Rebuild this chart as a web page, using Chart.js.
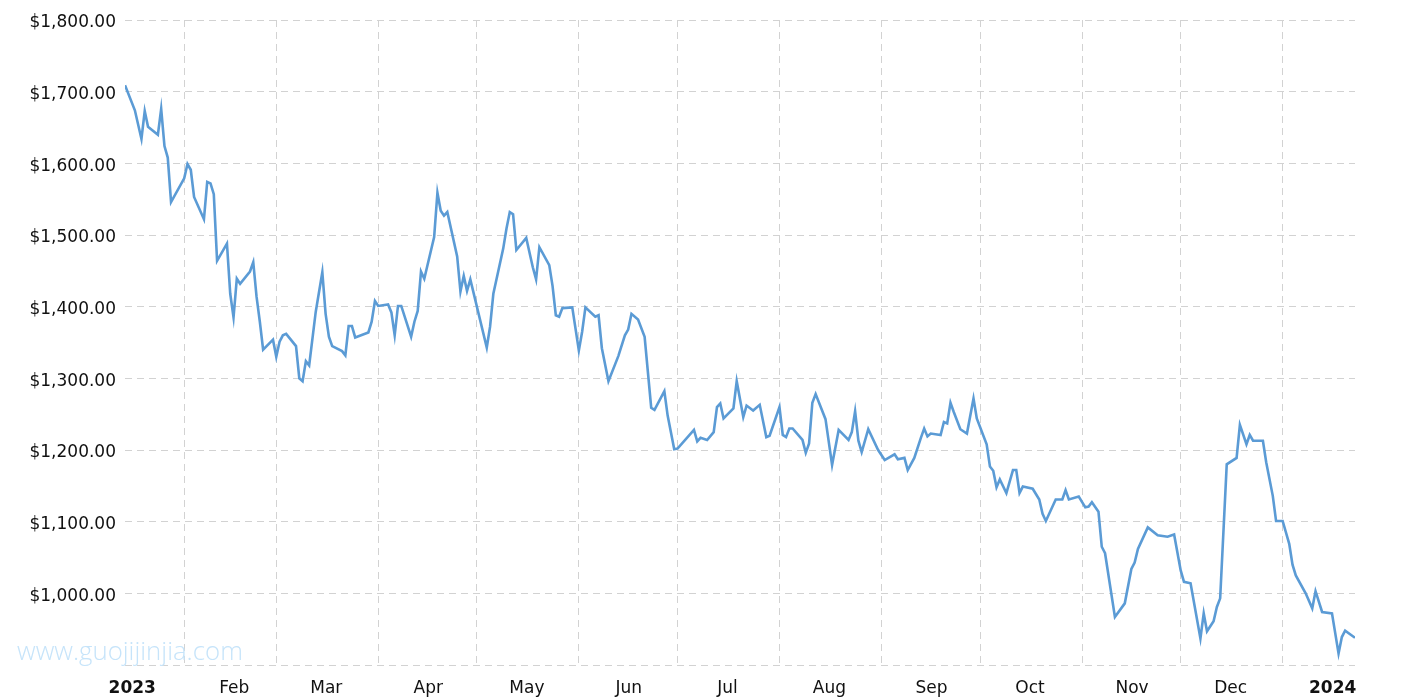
<!DOCTYPE html>
<html>
<head>
<meta charset="utf-8">
<script src="https://cdn.jsdelivr.net/npm/chart.js@4.4.1/dist/chart.umd.min.js"></script>
<style>
  html, body { margin: 0; padding: 0; background: #ffffff; }
  #wrap { width: 1415px; height: 700px; position: relative; }
</style>
</head>
<body>
<div id="wrap"><canvas id="c"></canvas></div>
<script>
// Day numbers: days since 2023-01-01 (0 = Jan 1, 2023)
const days = [
  13,16,18,19,20,23,24,25,26,27,31,32,33,34,37,38,39,40,41,44,
  45,46,47,48,51,52,53,54,55,58,59,60,61,62,65,66,67,68,69,71,
  73,74,75,76,79,80,81,82,83,87,88,89,90,93,94,95,96,97,100,101,
  102,103,104,
  107,108,109,110,111,114,115,116,117,118,123,124,125,128,129,130,131,132,135,137,
  138,139,142,143,144,145,146,149,151,152,153,156,157,158,160,163,165,166,167,169,
  171,173,174,177,178,180,181,186,187,188,190,192,193,194,195,
  198,199,201,202,204,206,208,209,212,213,214,215,216,219,220,221,222,223,226,228,
  230,233,234,235,236,237,239,242,244,247,248,250,251,253,255,256,257,258,261,262,
  263,264,265,267,269,271,272,275,276,277,278,279,281,283,284,285,286,289,291,292,
  293,296,298,299,300,303,305,306,307,309,310,311,314,317,319,320,321,324,327,330,
  332,334,335,337,340,341,342,344,345,346,348,351,352,354,355,356,359,360,362,363,
  365,367,368,369,372,374,375,377,380,382,383,384,387
];
const prices = [
  1709,1674,1634,1673,1651,1640,1676,1624,1608,1546,1579,1599,1591,1553,1522,1574,1572,1557,1464,1488,
  1418,1385,1439,1432,1449,1462,1414,1379,1340,1354,1330,1351,1360,1362,1345,1300,1296,1324,1318,1393,
  1448,1390,1358,1345,1338,1332,1373,1373,1357,1364,1379,1408,1401,1403,1392,1360,1401,1401,1358,1379,
  1394,1449,1439,
  1497,1559,1534,1527,1532,1470,1421,1443,1422,1438,1343,1372,1418,1481,1509,1532,1529,1479,1496,1455,
  1438,1483,1458,1429,1388,1386,1398,1399,1339,1365,1399,1386,1388,1342,1296,1331,1360,1368,1390,1382,
  1358,1259,1256,1282,1248,1201,1202,1228,1212,1217,1214,1225,1260,1265,1244,
  1258,1296,1246,1262,1255,1263,1218,1220,1260,1221,1218,1230,1230,1214,1196,1209,1266,1278,1243,1179,
  1228,1214,1225,1254,1213,1197,1229,1200,1186,1194,1187,1189,1172,1189,1217,1230,1219,1223,1221,1239,
  1237,1266,1253,1229,1223,1272,1244,1208,1177,1171,1148,1159,1140,1172,1172,1140,1149,1146,1131,1111,
  1101,1131,1131,1144,1131,1135,1120,1121,1127,1114,1065,1056,967,986,1034,1043,1062,1092,1081,1079,
  1082,1032,1016,1014,937,972,947,961,981,993,1180,1189,1235,1208,1221,1213,1213,1183,1136,1101,
  1101,1069,1040,1025,1000,979,1003,974,972,916,939,948,938
];
// Month boundaries (grid lines) and month labels
const monthStarts = [31,59,90,120,151,181,212,243,273,304,334,365];
const monthLabelDays = [0,31,59,90,120,151,181,212,243,273,304,334,365];
const monthLabels = ['2023','Feb','Mar','Apr','May','Jun','Jul','Aug','Sep','Oct','Nov','Dec','2024'];
const yTicks = [900,1000,1100,1200,1300,1400,1500,1600,1700,1800];

const FONT = "'DejaVu Sans', Verdana, sans-serif";
const LABEL_OFFSET_DAYS = 15.2;
const xMin = days[0], xMax = days[days.length - 1];

function fmtMoney(v) {
  const s = Math.round(v).toString().replace(/\B(?=(\d{3})+(?!\d))/g, ',');
  return '$' + s + '.00';
}

const watermark = {
  id: 'watermark',
  beforeDatasetsDraw(chart) {
    const ctx = chart.ctx;
    ctx.save();
    const text = 'www.guojijinjia.com';
    let size = 26;
    ctx.font = '300 ' + size + "px 'Open Sans', sans-serif";
    const w = ctx.measureText(text).width;
    size = size * 226 / w;
    ctx.font = '300 ' + size + "px 'Open Sans', sans-serif";
    ctx.fillStyle = '#c6e4fa';
    ctx.textBaseline = 'alphabetic';
    ctx.textAlign = 'left';
    ctx.fillText(text, 17, 660);
    ctx.restore();
  }
};

new Chart(document.getElementById('c'), {
  type: 'line',
  data: {
    datasets: [{
      data: days.map((d, i) => ({ x: d, y: prices[i] })),
      borderColor: '#5b9bd5',
      borderWidth: 2.6,
      pointRadius: 0,
      pointHoverRadius: 0,
      tension: 0,
      fill: false,
      xAxisID: 'x',
      yAxisID: 'y'
    }]
  },
  options: {
    responsive: true,
    maintainAspectRatio: false,
    animation: false,
    events: [],
    layout: { padding: { top: 20, right: 60, left: 0, bottom: 0 } },
    plugins: { legend: { display: false }, tooltip: { enabled: false } },
    scales: {
      x: {
        type: 'linear',
        position: 'bottom',
        min: xMin, max: xMax,
        afterBuildTicks(scale) { scale.ticks = monthStarts.map(v => ({ value: v })); },
        ticks: { display: false },
        grid: { display: true, color: '#d2d2d2', lineWidth: 1, drawTicks: false },
        border: { display: false, dash: [7, 5] }
      },
      x2: {
        type: 'linear',
        position: 'bottom',
        min: xMin, max: xMax,
        afterBuildTicks(scale) { scale.ticks = monthLabelDays.map(v => ({ value: v + LABEL_OFFSET_DAYS })); },
        afterFit(scale) { scale.height = 35; },
        ticks: {
          autoSkip: false,
          maxRotation: 0,
          padding: 13,
          color: '#111111',
          callback: (v, i) => monthLabels[i],
          font: (ctx) => ({
            family: FONT,
            size: 17,
            weight: (ctx.index === 0 || ctx.index === monthLabels.length - 1) ? 'bold' : 'normal'
          })
        },
        grid: { display: false, drawTicks: false },
        border: { display: false }
      },
      y: {
        type: 'linear',
        min: 900, max: 1800,
        afterBuildTicks(scale) { scale.ticks = yTicks.map(v => ({ value: v })); },
        afterFit(scale) { scale.width = 125; },
        ticks: {
          padding: 9,
          labelOffset: 3,
          color: '#111111',
          font: { family: FONT, size: 17 },
          callback: (v) => v === 900 ? '' : fmtMoney(v)
        },
        grid: { color: '#d2d2d2', lineWidth: 1, drawTicks: false },
        border: { display: false, dash: [7, 5] }
      }
    }
  },
  plugins: [watermark]
});
</script>
</body>
</html>
